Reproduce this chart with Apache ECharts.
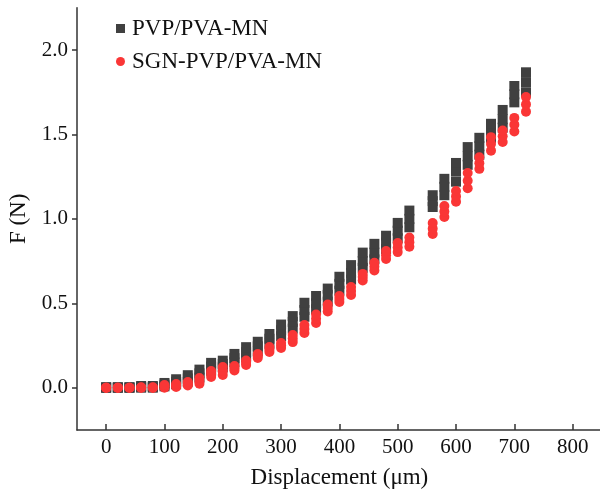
<!DOCTYPE html>
<html>
<head>
<meta charset="utf-8">
<script src="https://cdn.jsdelivr.net/npm/echarts@6/dist/echarts.min.js"></script>
<style>
  html, body { margin: 0; padding: 0; background: #fff; }
  #chart { width: 600px; height: 490px; }
</style>
</head>
<body>
<div id="chart"></div>
<script>
// displacement (um), 540 was not measured
var xs = [0, 20, 40, 60, 80, 100, 120, 140, 160, 180, 200, 220, 240, 260, 280, 300, 320, 340,
          360, 380, 400, 420, 440, 460, 480, 500, 520, 560, 580, 600, 620, 640, 660, 680, 700, 720];

// PVP/PVA-MN, three repeats
var pvpHi  = [0.003, 0.003, 0.003, 0.01, 0.01, 0.028, 0.05, 0.074, 0.107, 0.147, 0.16, 0.2, 0.24, 0.272, 0.318, 0.374, 0.424, 0.503,
              0.543, 0.587, 0.657, 0.726, 0.8, 0.852, 0.9, 0.976, 1.049, 1.14, 1.237, 1.331, 1.425, 1.48, 1.563, 1.645, 1.787, 1.868];
var pvpMid = [0, 0, 0, 0.005, 0.005, 0.018, 0.035, 0.055, 0.085, 0.125, 0.14, 0.175, 0.21, 0.245, 0.29, 0.34, 0.39, 0.46,
              0.5, 0.55, 0.615, 0.68, 0.75, 0.8, 0.86, 0.93, 1.0, 1.105, 1.19, 1.28, 1.37, 1.43, 1.52, 1.59, 1.738, 1.81];
var pvpLo  = [0, 0, 0, 0, 0, 0.008, 0.02, 0.035, 0.06, 0.1, 0.12, 0.15, 0.18, 0.215, 0.26, 0.305, 0.35, 0.42,
              0.465, 0.51, 0.575, 0.64, 0.71, 0.76, 0.82, 0.885, 0.95, 1.07, 1.14, 1.22, 1.32, 1.38, 1.48, 1.54, 1.69, 1.75];

// SGN-PVP/PVA-MN, three repeats
var sgnHi  = [0, 0, 0, 0.002, 0.002, 0.016, 0.022, 0.034, 0.057, 0.099, 0.123, 0.128, 0.161, 0.2, 0.241, 0.265, 0.312, 0.371,
              0.433, 0.493, 0.543, 0.596, 0.674, 0.74, 0.809, 0.857, 0.89, 0.975, 1.076, 1.165, 1.272, 1.365, 1.484, 1.523, 1.598, 1.721];
var sgnMid = [0, 0, 0, 0, 0, 0.008, 0.013, 0.024, 0.04, 0.081, 0.099, 0.115, 0.148, 0.188, 0.226, 0.25, 0.291, 0.348,
              0.408, 0.472, 0.525, 0.572, 0.655, 0.717, 0.785, 0.83, 0.862, 0.942, 1.044, 1.133, 1.226, 1.33, 1.444, 1.489, 1.558, 1.678];
var sgnLo  = [0, 0, 0, 0, 0, 0, 0.004, 0.013, 0.023, 0.063, 0.075, 0.102, 0.134, 0.176, 0.212, 0.235, 0.27, 0.324,
              0.383, 0.451, 0.507, 0.549, 0.635, 0.694, 0.762, 0.803, 0.835, 0.91, 1.011, 1.102, 1.181, 1.296, 1.404, 1.455, 1.517, 1.635];

var xTicks = [0, 100, 200, 300, 400, 500, 600, 700, 800];
var yTicks = [0, 0.5, 1.0, 1.5, 2.0];

var font = 'Liberation Serif';
var axisColor = '#333';

function pairs(ys) {
  return xs.map(function (x, i) { return [x, ys[i]]; });
}

function makeSeries(name, ys, symbol, color, size) {
  return {
    name: name,
    type: 'scatter',
    symbol: symbol,
    symbolSize: size,
    itemStyle: { color: color, opacity: 1 },
    emphasis: { disabled: true },
    data: pairs(ys)
  };
}

var gray = '#404040';
var red = '#fa3636';

var chart = echarts.init(document.getElementById('chart'));
chart.setOption({
  animation: false,
  textStyle: { fontFamily: font },
  legend: {
    data: [
      { name: 'PVP/PVA-MN', icon: 'rect' },
      { name: 'SGN-PVP/PVA-MN', icon: 'circle' }
    ],
    orient: 'vertical',
    left: 111,
    top: 12,
    itemWidth: 9,
    itemHeight: 9,
    itemGap: 10,
    textStyle: { fontFamily: font, fontSize: 23, color: '#111', padding: [0, 0, 0, 2] }
  },
  grid: { left: 77, top: 7.8, width: 524.8, height: 422.1, containLabel: false, outerBoundsMode: 'none' },
  xAxis: {
    type: 'value',
    min: -50,
    max: 850,
    name: 'Displacement (μm)',
    nameLocation: 'middle',
    nameGap: 37,
    nameTextStyle: { fontFamily: font, fontSize: 23, color: '#111' },
    axisLine: { show: true, onZero: false, lineStyle: { color: axisColor, width: 1.5 } },
    axisTick: { show: true, inside: true, length: 6, customValues: xTicks, lineStyle: { color: axisColor, width: 1.5 } },
    axisLabel: { customValues: xTicks, fontSize: 21, color: '#111', margin: 7, fontFamily: font },
    splitLine: { show: false }
  },
  yAxis: {
    type: 'value',
    min: -0.25,
    max: 2.25,
    name: 'F (N)',
    nameLocation: 'middle',
    nameGap: 45,
    nameTextStyle: { fontFamily: font, fontSize: 23, color: '#111' },
    axisLine: { show: true, onZero: false, lineStyle: { color: axisColor, width: 1.5 } },
    axisTick: { show: true, inside: false, length: 5, customValues: yTicks, lineStyle: { color: axisColor, width: 1.5 } },
    axisLabel: {
      customValues: yTicks, fontSize: 21, color: '#111', margin: 9, fontFamily: font,
      formatter: function (v) { return v.toFixed(1); }
    },
    splitLine: { show: false }
  },
  series: [
    makeSeries('PVP/PVA-MN', pvpLo, 'rect', gray, 10),
    makeSeries('PVP/PVA-MN', pvpMid, 'rect', gray, 10),
    makeSeries('PVP/PVA-MN', pvpHi, 'rect', gray, 10),
    makeSeries('SGN-PVP/PVA-MN', sgnLo, 'circle', red, 10),
    makeSeries('SGN-PVP/PVA-MN', sgnMid, 'circle', red, 10),
    makeSeries('SGN-PVP/PVA-MN', sgnHi, 'circle', red, 10)
  ]
});
</script>
</body>
</html>
